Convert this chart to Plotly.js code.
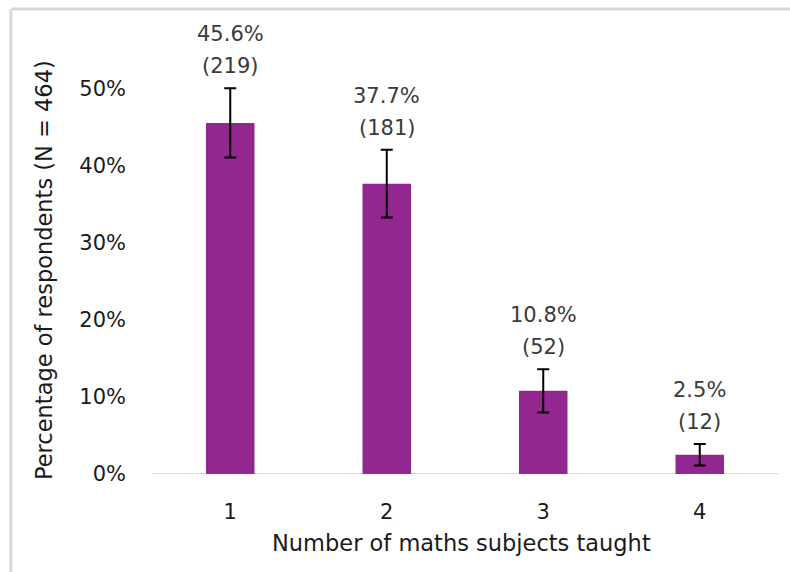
<!DOCTYPE html>
<html>
<head>
<meta charset="utf-8">
<script src="https://cdn.plot.ly/plotly-3.0.1.min.js"></script>
<style>
  html, body { margin: 0; padding: 0; background: #ffffff; }
  #chart { width: 790px; height: 572px; }
</style>
</head>
<body>
<div id="chart"></div>
<script>
// Data
const categories = ["1", "2", "3", "4"];
const percentages = [0.456, 0.377, 0.108, 0.025];
const counts = [219, 181, 52, 12];
const errors = [0.045, 0.044, 0.028, 0.014];
const yTickValues = [0, 0.1, 0.2, 0.3, 0.4, 0.5];
const yTickLabels = ["0%", "10%", "20%", "30%", "40%", "50%"];
const xTitle = "Number of maths subjects taught";
const yTitle = "Percentage of respondents (N = 464)";

const FONT = "DejaVu Sans, sans-serif";
const purple = "#92278f";
const textDark = "#1a1a1a";
const labelColor = "#3a3a3a";

const trace = {
  type: "bar",
  x: categories,
  y: percentages,
  marker: { color: purple },
  error_y: {
    type: "data",
    array: errors,
    visible: true,
    color: "#000000",
    thickness: 2,
    width: 6
  },
  hoverinfo: "skip"
};

const annotations = [];
categories.forEach((c, i) => {
  annotations.push({
    x: i, y: percentages[i] + errors[i], xref: "x", yref: "y",
    text: "(" + counts[i] + ")",
    showarrow: false, yanchor: "bottom", yshift: 8,
    font: { family: FONT, size: 21, color: labelColor }
  });
  annotations.push({
    x: i, y: percentages[i] + errors[i], xref: "x", yref: "y",
    text: (percentages[i] * 100).toFixed(1) + "%",
    showarrow: false, yanchor: "bottom", yshift: 40,
    font: { family: FONT, size: 21, color: labelColor }
  });
});
annotations.push({
  text: yTitle, textangle: -90, showarrow: false,
  xref: "paper", yref: "paper", x: -0.1725, y: 0.4416,
  xanchor: "center", yanchor: "middle",
  font: { family: FONT, size: 22.5, color: textDark }
});
annotations.push({
  text: xTitle, showarrow: false,
  xref: "paper", yref: "paper", x: 0.494, y: -0.149,
  xanchor: "center", yanchor: "middle",
  font: { family: FONT, size: 22.5, color: textDark }
});

const layout = {
  width: 790,
  height: 572,
  margin: { l: 152, r: 12, t: 12, b: 98 },
  paper_bgcolor: "#ffffff",
  plot_bgcolor: "#ffffff",
  bargap: 0.69,
  showlegend: false,
  font: { family: FONT, size: 21, color: textDark },
  xaxis: {
    type: "category",
    range: [-0.5, 3.5],
    showgrid: false,
    zeroline: false,
    showline: false,
    ticks: "",
    ticklabelstandoff: 23,
    tickfont: { family: FONT, size: 21, color: textDark }
  },
  yaxis: {
    range: [0, 0.6],
    tickvals: yTickValues,
    ticktext: yTickLabels,
    showgrid: false,
    zeroline: false,
    showline: false,
    ticks: "",
    ticklabelstandoff: 25,
    tickfont: { family: FONT, size: 21, color: textDark }
  },
  annotations: annotations,
  shapes: [
    { type: "line", xref: "paper", yref: "y", x0: 0, x1: 1, y0: 0, y1: 0, line: { color: "#d9d9d9", width: 2 }, layer: "below" },
    { type: "line", xref: "paper", yref: "paper", x0: -0.225, x1: 1.03, y0: 1.0065, y1: 1.0065, line: { color: "#d9d9d9", width: 3 } },
    { type: "line", xref: "paper", yref: "paper", x0: -0.2255, x1: -0.2255, y0: 1.0065, y1: -0.22, line: { color: "#d9d9d9", width: 3 } }
  ]
};

Plotly.newPlot("chart", [trace], layout, { displayModeBar: false, staticPlot: true });
</script>
</body>
</html>
